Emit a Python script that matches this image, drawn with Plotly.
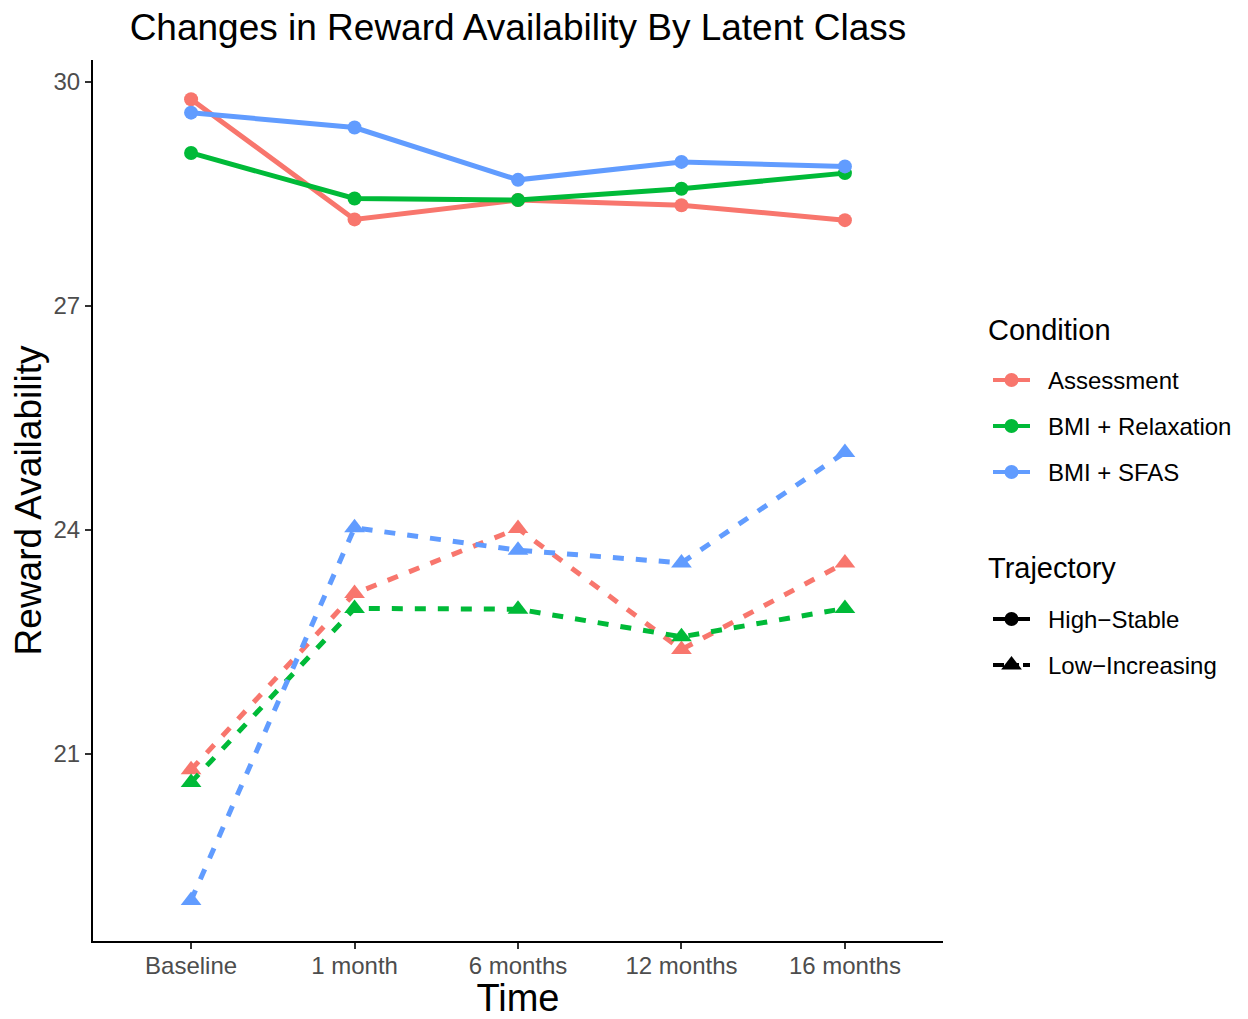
import plotly.graph_objects as go

times = ["Baseline", "1 month", "6 months", "12 months", "16 months"]
conditions = ["Assessment", "BMI + Relaxation", "BMI + SFAS"]
trajectories = ["High\u2212Stable", "Low\u2212Increasing"]

high_assess = [29.77, 28.16, 28.42, 28.35, 28.15]
high_relax = [29.05, 28.44, 28.42, 28.57, 28.78]
high_sfas = [29.59, 29.39, 28.69, 28.93, 28.87]
low_assess = [20.79, 23.15, 24.02, 22.40, 23.56]
low_relax = [20.62, 22.95, 22.94, 22.57, 22.95]
low_sfas = [19.04, 24.03, 23.73, 23.56, 25.04]

colors = ["#F8766D", "#00BA38", "#619CFF"]
FONT = "Liberation Sans, Arial, Helvetica, sans-serif"
DASH = "11px,12px"

OFF = 8  # page body margin
W, H = 1248 - OFF, 1019 - OFF
ML, MR, MT, MB = 93 - OFF, 5, 60 - OFF, 78
PW = W - ML - MR
panel_right = 943
dom = (panel_right - 93) / PW

fig = go.Figure()

high = [high_assess, high_relax, high_sfas]
low = [low_assess, low_relax, low_sfas]

for i, c in enumerate(conditions):
    fig.add_trace(go.Scatter(
        x=times, y=low[i], mode="lines+markers", showlegend=False,
        line=dict(color=colors[i], width=5, dash=DASH),
        marker=dict(symbol="triangle-up", size=18, color=colors[i]),
        name=c + " " + trajectories[1]))
for i, c in enumerate(conditions):
    fig.add_trace(go.Scatter(
        x=times, y=high[i], mode="lines+markers", showlegend=False,
        line=dict(color=colors[i], width=5),
        marker=dict(symbol="circle", size=14, color=colors[i]),
        name=c + " " + trajectories[0]))

# ---- manual legend drawn on hidden axes (screen-pixel-like coords) ----
key_x0, key_x1, key_mid, text_x = 993, 1030, 1011.5, 1046
cond_y = [380, 426, 472]
traj_y = [619, 665]

annotations = []
for title_txt, ty in (("Condition", 330), ("Trajectory", 568)):
    annotations.append(dict(x=986, y=ty, xref="x2", yref="y2", text=title_txt,
                            showarrow=False, xanchor="left", yanchor="middle",
                            font=dict(size=29, color="black", family=FONT)))
for i, c in enumerate(conditions):
    fig.add_trace(go.Scatter(
        x=[key_x0, key_x1], y=[cond_y[i]] * 2, xaxis="x2", yaxis="y2",
        mode="lines", line=dict(color=colors[i], width=4),
        showlegend=False, hoverinfo="skip"))
    fig.add_trace(go.Scatter(
        x=[key_mid], y=[cond_y[i]], xaxis="x2", yaxis="y2",
        mode="markers", marker=dict(symbol="circle", size=14, color=colors[i]),
        showlegend=False, hoverinfo="skip"))
    annotations.append(dict(x=text_x, y=cond_y[i], xref="x2", yref="y2", text=c,
                            showarrow=False, xanchor="left", yanchor="middle",
                            font=dict(size=24, color="black", family=FONT)))
for j, t in enumerate(trajectories):
    fig.add_trace(go.Scatter(
        x=[key_x0, key_x1], y=[traj_y[j]] * 2, xaxis="x2", yaxis="y2",
        mode="lines", line=dict(color="black", width=4,
                                dash="solid" if j == 0 else "11px,4px"),
        showlegend=False, hoverinfo="skip"))
    fig.add_trace(go.Scatter(
        x=[key_mid], y=[traj_y[j]], xaxis="x2", yaxis="y2",
        mode="markers",
        marker=dict(symbol="circle" if j == 0 else "triangle-up",
                    size=14 if j == 0 else 18, color="black"),
        showlegend=False, hoverinfo="skip"))
    annotations.append(dict(x=text_x, y=traj_y[j], xref="x2", yref="y2", text=t,
                            showarrow=False, xanchor="left", yanchor="middle",
                            font=dict(size=24, color="black", family=FONT)))

fig.update_layout(
    width=W, height=H,
    margin=dict(l=ML, r=MR, t=MT, b=MB, pad=0),
    paper_bgcolor="white", plot_bgcolor="white",
    font=dict(family=FONT),
    showlegend=False,
    title=dict(text="Changes in Reward Availability By Latent Class",
               x=(518 - OFF) / W, xref="container", xanchor="center",
               y=1 - (27 - OFF) / H, yref="container", yanchor="middle",
               font=dict(size=37, color="black", family=FONT)),
    xaxis=dict(domain=[0, dom], type="category", range=[-0.6, 4.6],
               showline=True, linecolor="black", linewidth=2,
               ticks="outside", ticklen=6, tickwidth=2, tickcolor="#333333",
               tickfont=dict(size=24, color="#4D4D4D", family=FONT),
               ticklabelstandoff=-4,
               showgrid=False, zeroline=False, anchor="y",
               title=dict(text="Time", font=dict(size=38, color="black", family=FONT),
                          standoff=9)),
    yaxis=dict(range=[18.496, 30.295], tickvals=[21, 24, 27, 30],
               showline=True, linecolor="black", linewidth=2,
               ticks="outside", ticklen=6, tickwidth=2, tickcolor="#333333",
               tickfont=dict(size=24, color="#4D4D4D", family=FONT),
               showgrid=False, zeroline=False, anchor="x",
               title=dict(text="Reward Availability",
                          font=dict(size=37, color="black", family=FONT),
                          standoff=8)),
    xaxis2=dict(domain=[dom, 1], range=[panel_right, 1248 - MR], visible=False,
                anchor="y2", fixedrange=True),
    yaxis2=dict(domain=[0, 1], range=[941, 60], visible=False,
                anchor="x2", fixedrange=True),
    annotations=annotations,
)

fig.write_html("out.html")
